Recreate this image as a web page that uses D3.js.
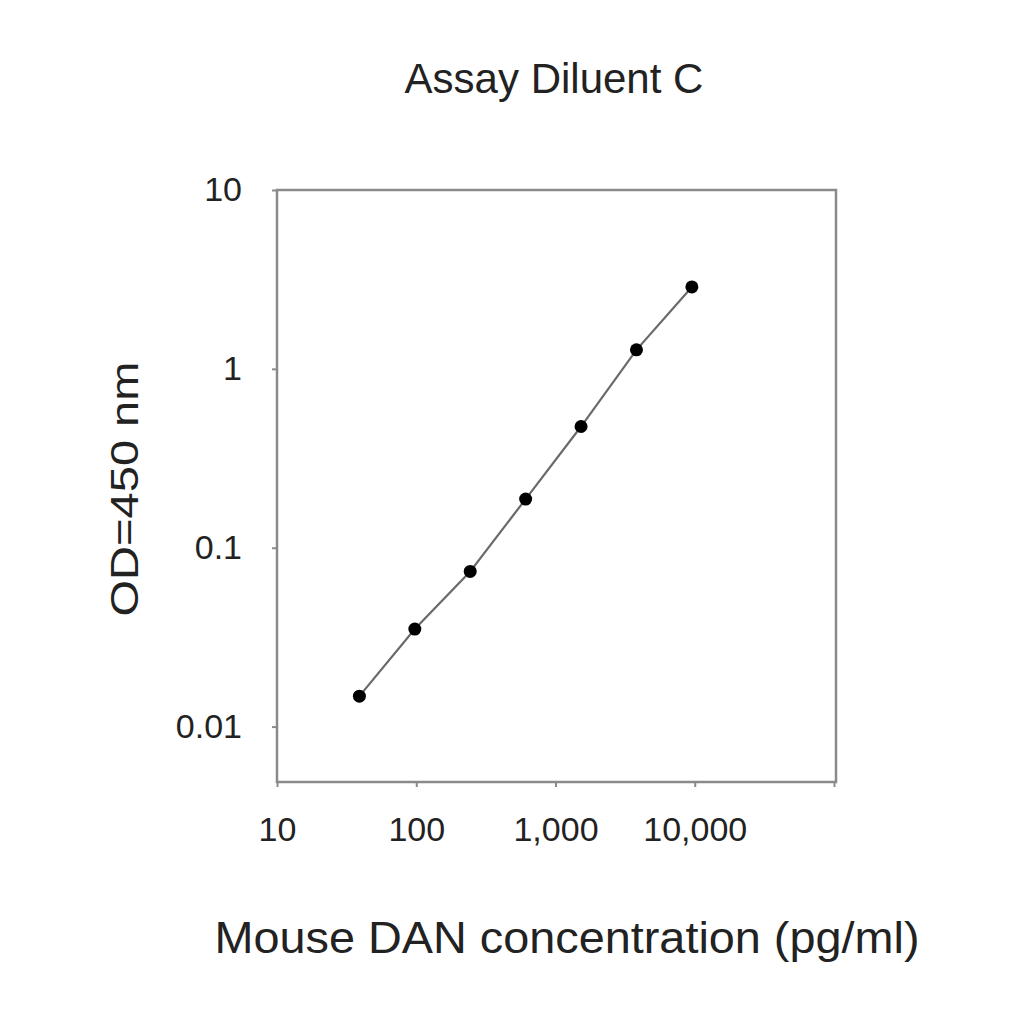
<!DOCTYPE html>
<html>
<head>
<meta charset="utf-8">
<script src="https://cdn.jsdelivr.net/npm/d3@7"></script>
<style>
  html, body { margin: 0; padding: 0; background: #fff; }
  svg { display: block; }
  text { font-family: "Liberation Sans", Arial, Helvetica, sans-serif; fill: #222; }
</style>
</head>
<body>
<svg id="chart" width="1024" height="1024"></svg>
<script>
// ---- data ----
const title = "Assay Diluent C";
const xLabel = "Mouse DAN concentration (pg/ml)";
const yLabel = "OD=450 nm";
const concentration = [39.06, 97.66, 244.1, 610.4, 1525.9, 3814.7, 9536.7];
const od450 = [0.0148, 0.0351, 0.0737, 0.187, 0.476, 1.277, 2.87];
const xTickValues = [10, 100, 1000, 10000, 100000];
const xTickLabels = ["10", "100", "1,000", "10,000", ""];
const yTickValues = [0.01, 0.1, 1, 10];
const yTickLabels = ["0.01", "0.1", "1", "10"];

// ---- layout ----
const plotLeft = 277, plotRight = 836, plotTop = 190, plotBottom = 782;
const svg = d3.select("#chart");

const x = d3.scaleLog().domain([10, 100000]).range([plotLeft, plotRight - 2]);
const y = d3.scaleLog().domain([0.0049, 10]).range([plotBottom, plotTop]);

const axisColor = "#8a8a8a";

// frame
svg.append("rect")
  .attr("x", plotLeft).attr("y", plotTop)
  .attr("width", plotRight - plotLeft).attr("height", plotBottom - plotTop)
  .attr("fill", "none").attr("stroke", axisColor).attr("stroke-width", 2.5);

// x axis
const gx = svg.append("g").attr("transform", `translate(0,${plotBottom})`)
  .call(d3.axisBottom(x).tickValues(xTickValues)
    .tickFormat((d, i) => xTickLabels[i]).tickSize(5).tickPadding(30));
gx.select(".domain").remove();
gx.selectAll(".tick line").attr("stroke", axisColor).attr("stroke-width", 2);
gx.selectAll(".tick text").attr("font-size", 34).attr("fill", "#222")
  .attr("font-family", "Liberation Sans, Arial, sans-serif");

// y axis
const gy = svg.append("g").attr("transform", `translate(${plotLeft},0)`)
  .call(d3.axisLeft(y).tickValues(yTickValues)
    .tickFormat((d, i) => yTickLabels[i]).tickSize(5).tickPadding(30));
gy.select(".domain").remove();
gy.selectAll(".tick line").attr("stroke", axisColor).attr("stroke-width", 2);
gy.selectAll(".tick text").attr("font-size", 34).attr("fill", "#222")
  .attr("font-family", "Liberation Sans, Arial, sans-serif");

// line
const pts = concentration.map((c, i) => [c, od450[i]]);
svg.append("path")
  .datum(pts)
  .attr("fill", "none")
  .attr("stroke", "#6a6a6a")
  .attr("stroke-width", 2.2)
  .attr("d", d3.line().x(d => x(d[0])).y(d => y(d[1])));

// points
svg.selectAll("circle.pt").data(pts).enter().append("circle")
  .attr("class", "pt")
  .attr("cx", d => x(d[0])).attr("cy", d => y(d[1]))
  .attr("r", 6.5).attr("fill", "#000");

// title
svg.append("text").attr("x", 554).attr("y", 93)
  .attr("text-anchor", "middle").attr("font-size", 42).text(title);

// x label
svg.append("text").attr("x", 567).attr("y", 953)
  .attr("text-anchor", "middle").attr("font-size", 45)
  .attr("textLength", 705).attr("lengthAdjust", "spacingAndGlyphs")
  .text(xLabel);

// y label
svg.append("text")
  .attr("transform", "translate(138,489) rotate(-90)")
  .attr("text-anchor", "middle").attr("font-size", 38)
  .attr("textLength", 255).attr("lengthAdjust", "spacingAndGlyphs")
  .text(yLabel);
</script>
</body>
</html>
